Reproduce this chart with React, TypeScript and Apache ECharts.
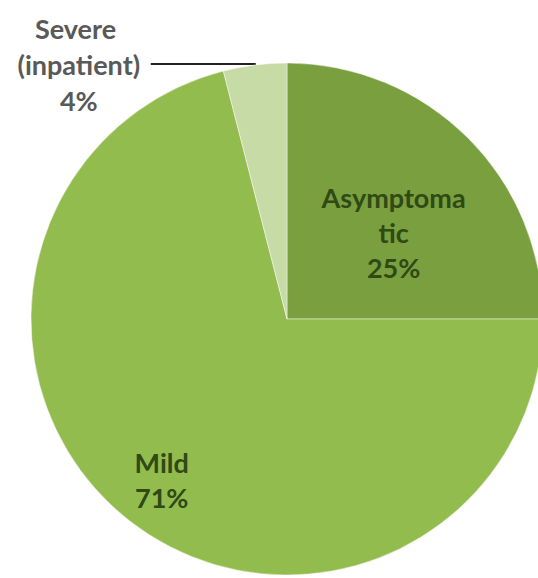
import React, { useEffect, useRef } from "react";
import * as echarts from "echarts";

const categories = ["Asymptomatic", "Mild", "Severe (inpatient)"];
const values = [25, 71, 4];
const colors = ["#7a9f3f", "#93bc4e", "#c6dba6"];

export default function App() {
  const ref = useRef<HTMLDivElement>(null);
  useEffect(() => {
    if (!ref.current) return;
    const chart = echarts.init(ref.current, null, { renderer: "svg" });
    const font = "Lato, 'Open Sans', sans-serif";
    const insideLabel = {
      position: "inside",
      color: "#2f4a14",
      fontFamily: font,
      fontSize: 27,
      fontWeight: "bold",
      lineHeight: 35,
    };
    chart.setOption({
      animation: false,
      backgroundColor: "#ffffff",
      series: [
        {
          type: "pie",
          center: [287, 319],
          radius: 256,
          startAngle: 90,
          clockwise: true,
          avoidLabelOverlap: false,
          itemStyle: { borderColor: "rgba(255,255,255,0.45)", borderWidth: 1 },
          labelLayout: (p: any) => {
            if (p.dataIndex === 0) return { dx: 14, dy: 6 };
            if (p.dataIndex === 1) return { dx: -45, dy: 57 };
            return {};
          },
          data: categories.map((name, i) => ({
            name,
            value: values[i],
            itemStyle: { color: colors[i] },
            label:
              i === 2
                ? {
                    position: "outside",
                    formatter: "{c|{b}}\n{c|{d}%}",
                    width: 132,
                    overflow: "break",
                    distanceToLabelLine: 6,
                    rich: {
                      c: {
                        align: "center",
                        color: "#595959",
                        fontFamily: font,
                        fontSize: 27,
                        fontWeight: "bold",
                        lineHeight: 36,
                      },
                    },
                  }
                : {
                    ...insideLabel,
                    formatter: "{b}\n{d}%",
                    width: i === 0 ? 150 : 200,
                    overflow: "breakAll",
                  },
            labelLine:
              i === 2
                ? { show: true, length: 1, length2: 104, lineStyle: { color: "#222", width: 2 } }
                : { show: false },
          })),
        },
      ],
    });
    return () => chart.dispose();
  }, []);
  return (
    <div
      ref={ref}
      style={{ position: "fixed", left: 0, top: 0, width: 538, height: 578 }}
    />
  );
}
